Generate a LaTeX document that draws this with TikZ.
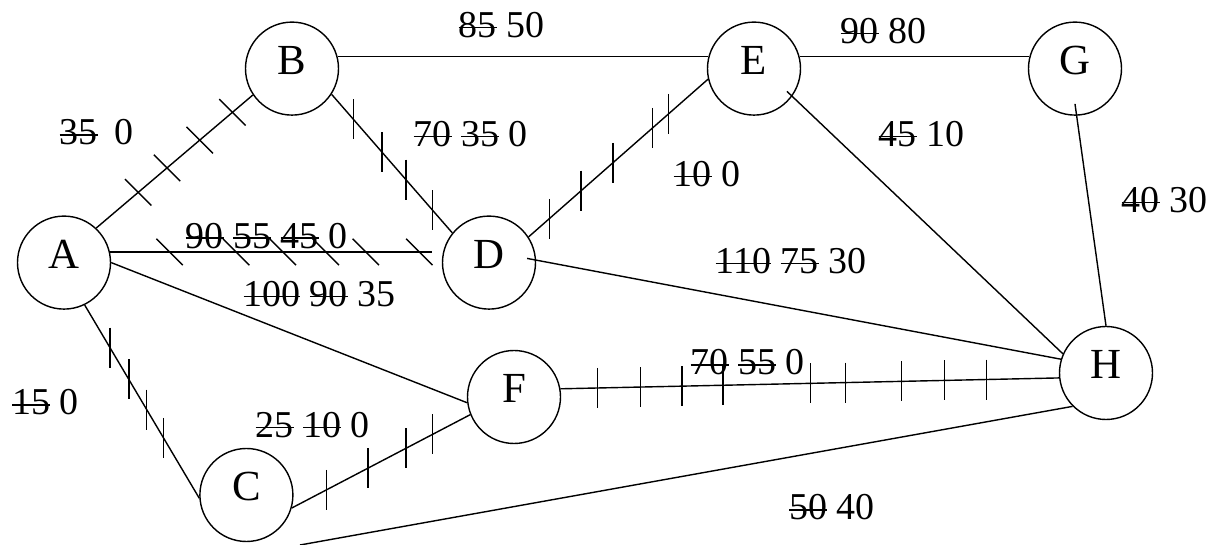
\documentclass[tikz,border=0pt]{standalone}
\usepackage{fontspec}
\setmainfont{Liberation Serif}
\usetikzlibrary{calc}
\newcommand{\struck}[1]{\setbox0=\hbox{#1}\rlap{\rule[0.25em]{\wd0}{0.035em}}\box0\relax}
\begin{document}
\begin{tikzpicture}[
        line width=1pt,
        vertex/.style={draw, circle, minimum size=2.325cm, inner sep=0pt,
            text height=0.8em, text depth=0pt, font=\fontsize{30.5}{36}\selectfont},
        lbl/.style={anchor=base west, inner sep=0pt, font=\fontsize{27}{32}\selectfont}
    ]
    \useasboundingbox (0,0) rectangle (30.325,13.625);

    % 结点
    \node[vertex] (A) at (1.6,7.06) {A};
    \node[vertex] (B) at (7.3,11.91) {B};
    \node[vertex] (E) at (18.85,11.91) {E};
    \node[vertex] (G) at (26.875,11.91) {G};
    \node[vertex] (D) at (12.225,7.06) {D};
    \node[vertex] (F) at (12.85,3.7) {F};
    \node[vertex] (H) at (27.65,4.3) {H};
    \node[vertex] (C) at (6.16,1.25) {C};
    \coordinate (Cfoot) at (7.5,0);

    % 边
    \draw (A.47) -- (B.214);
    \draw (B.-33) -- (D.141);
    \draw (B.15) -- (E.165);
    \draw (E.15) -- (G.165);
    \draw[shorten <=-0.18cm] (E.-36) -- (H.156);
    \draw[shorten <=-0.3cm] (G.-88) -- (H.90);
    \draw (D.33) -- (E.193);
    \draw[shorten <=-0.23cm] (D.3) -- (H.163);
    \draw[shorten >=0.27cm] (A.13) -- (D.167);
    \draw (A.0) -- (F.187);
    \draw (A.-64) -- (C.184);
    \draw (C.-16) -- (F.202);
    \draw (Cfoot) -- (H.225);
    \draw (F.10) -- (H.186);

    % 刻痕
    \foreach \p in {0.268,0.452,0.661,0.870}
        \draw ($(A.47)!\p!(B.214)$) ++(-0.33,0.33) -- ++(0.66,-0.66);
    \foreach \p in {0.179,0.379,0.519,0.648,0.768,0.929}
        \draw ($(A.13)!\p!(D.167)$) ++(-0.33,0.33) -- ++(0.66,-0.66);
    \foreach \p in {0.18,0.418,0.615,0.837}
        \draw ($(B.-33)!\p!(D.141)$) ++(0,0.5) -- ++(0,-1);
    \foreach \p in {0.115,0.293,0.47,0.691,0.78}
        \draw ($(D.33)!\p!(E.193)$) ++(0,0.5) -- ++(0,-1);
    \foreach \p in {0.221,0.385,0.541,0.688}
        \draw ($(A.-64)!\p!(C.184)$) ++(0,0.5) -- ++(0,-1);
    \foreach \p in {0.194,0.427,0.639,0.789}
        \draw ($(C.-16)!\p!(F.202)$) ++(0,0.5) -- ++(0,-1);
    \foreach \p in {0.074,0.16,0.244,0.326,0.502,0.572,0.684,0.77,0.854}
        \draw ($(F.10)!\p!(H.186)$) ++(0,0.5) -- ++(0,-1);

    % 标注
    \node[lbl] (lAB) at (1.475,10.0) {\struck{35}\hspace{0.44em}0};
    \node[lbl] (lBE) at (11.45,12.69) {\struck{85} 50};
    \node[lbl] (lBD) at (10.325,9.96) {\struck{70} \struck{35} 0};
    \node[lbl] (lDE) at (16.825,8.96) {\struck{10} 0};
    \node[lbl] (lEG) at (21.0,12.54) {\struck{90} 80};
    \node[lbl] (lEH) at (21.95,9.96) {\struck{45} 10};
    \node[lbl] (lGH) at (28.025,8.31) {\struck{40} 30};
    \node[lbl] (lDH) at (17.875,6.79) {\struck{110} \struck{75} 30};
    \node[lbl] (lAD) at (4.625,7.42) {\struck{90} \struck{55} \struck{45} 0};
    \node[lbl] (lAF) at (6.07,5.96) {\struck{100} \struck{90} 35};
    \node[lbl] (lAC) at (0.29,3.25) {\struck{15} 0};
    \node[lbl] (lCF) at (6.375,2.69) {\struck{25} \struck{10} 0};
    \node[lbl] (lFH) at (17.25,4.25) {\struck{70} \struck{55} 0};
    \node[lbl] (lCH) at (19.71,0.625) {\struck{50} 40};
\end{tikzpicture}
\end{document}
